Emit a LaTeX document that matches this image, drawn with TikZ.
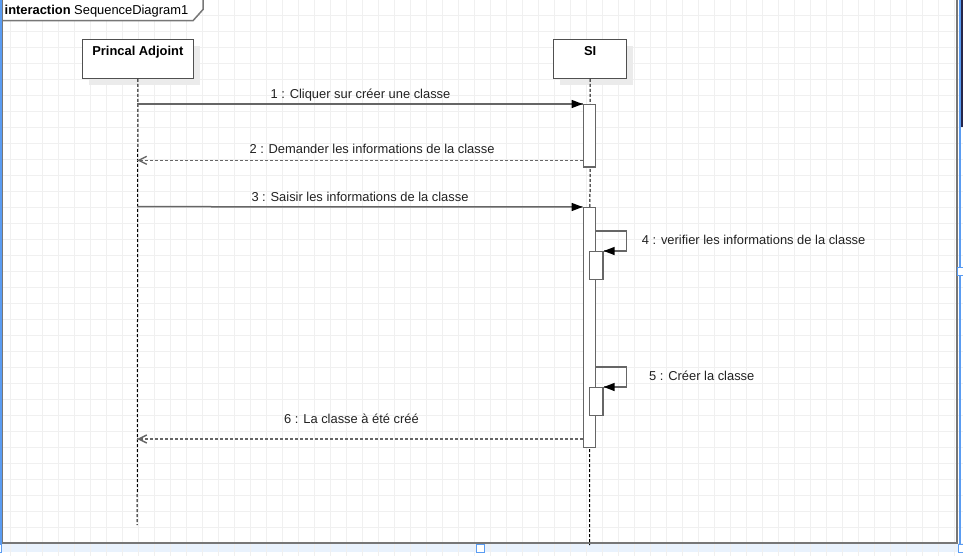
\documentclass[tikz,border=0pt]{standalone}
\usepackage{fontspec}
\setmainfont{Liberation Sans}
\usetikzlibrary{calc}
\usetikzlibrary{arrows.meta,decorations.markings}

\definecolor{gridgray}{HTML}{F0F0F0}
\definecolor{linegray}{HTML}{666666}
\definecolor{framegray}{HTML}{777777}
\definecolor{boxgray}{HTML}{505050}
\definecolor{textgray}{HTML}{222222}
\definecolor{selblue}{HTML}{5A9CF2}
\definecolor{selfill}{HTML}{E9F2FD}
\definecolor{shadowgray}{HTML}{EBEBEB}

\newcommand{\labelfont}{\fontsize{12.9pt}{15pt}\selectfont}

\tikzset{
  call/.style={draw=linegray, line width=1.5pt, postaction={decorate},
    decoration={markings,
      mark=at position 1 with {\arrow[black]{Triangle[length=11pt,width=8pt]}}}},
  reply/.style={draw=linegray, line width=1.4pt, dash pattern=on 3pt off 2pt,
    postaction={decorate},
    decoration={markings,
      mark=at position 1 with {\arrow[linegray]{Straight Barb[length=8pt,width=8pt]}}}},
  lifeline/.style={black, line width=1pt, dash pattern=on 3pt off 2pt},
  actor/.style={draw=boxgray, fill=white, line width=1.3pt, inner sep=0pt,
    minimum height=38.7pt, anchor=north west},
  actorname/.style={font=\labelfont\bfseries, anchor=base, inner sep=0pt},
  actbox/.style={draw=linegray, fill=white, line width=1.4pt, inner sep=0pt,
    anchor=north},
  msg/.style={text=textgray, anchor=base, inner sep=0pt},
}

\begin{document}
\begin{tikzpicture}[x=1pt,y=-1pt,font=\labelfont]

% canvas
\useasboundingbox (0,0) rectangle (963,556);
\clip (0,0) rectangle (963,556);
\fill[white] (0,0) rectangle (963,556);
\fill[selfill] (0,544.3) rectangle (963,552);

% grid
\foreach \gx in {0,...,60}
  \draw[gridgray, line width=1pt] ({10.5+16*\gx},0) -- ({10.5+16*\gx},556);
\foreach \gy in {0,...,34}
  \draw[gridgray, line width=1pt] (0,{15.5+16*\gy}) -- (963,{15.5+16*\gy});

% frame
\draw[framegray, line width=2pt] (2,-5) rectangle (956.8,543.3);
\draw[framegray, line width=1.5pt, fill=white]
  (2,-1) -- (203,-1) -- (203,9.5) -- (193,20.7) -- (2,20.7) -- cycle;
\node[anchor=base west, inner sep=0pt] (title) at (4.5,14.3)
  {\textbf{interaction} SequenceDiagram1};

% selection marks
\draw[selblue, line width=1.6pt] (1.3,0) -- (1.3,552);
\draw[selblue, line width=1.6pt] (959.8,0) -- (959.8,552);
\fill[black!80!blue!70!gray] (960.6,0) rectangle (963,127);
\draw[selblue, line width=1pt, fill=white] (476.5,544.5) rectangle (484.5,552.5);
\draw[selblue, line width=1pt, fill=white] (957.5,267) rectangle (966,275);
\draw[selblue, line width=1pt, fill=white] (958.5,544.5) rectangle (967,552.5);
\draw[selblue, line width=1pt, fill=white] (-6,544.5) rectangle (1.5,552.5);

% lifelines
\pgfmathsetmacro{\xa}{137.2} % Princal Adjoint
\pgfmathsetmacro{\xs}{589.5} % SI

\fill[shadowgray] (88.7,46) rectangle (199.7,84.7);
\fill[shadowgray] (560,46) rectangle (633,84.7);
\node[actor, minimum width=111pt] (PA) at (81.7,39) {};
\node[actor, minimum width=73pt] (SI) at (553,39) {};
\node[actorname] (PAname) at ($(PA.north)+(0,17)$) {Princal Adjoint};
\node[actorname] (SIname) at ($(SI.north)+(0,17)$) {SI};

\coordinate (PAend) at (\xa,525);
\coordinate (SIend) at (\xs,545);
\draw[lifeline] (PA.south) -- (PAend);
\draw[lifeline] (SI.south) -- (SIend);

% activations
\node[actbox, minimum width=12.4pt, minimum height=62.5pt] (A1) at (\xs,104) {};
\node[actbox, minimum width=12.4pt, minimum height=239.5pt] (A2) at (\xs,207) {};
\node[actbox, minimum width=13.5pt, minimum height=28pt] (N1) at (596.25,251) {};
\node[actbox, minimum width=13.5pt, minimum height=27.5pt] (N2) at (596.25,387) {};

% messages
\coordinate (m1) at (\xa,104);
\coordinate (m2) at (\xa,160.3);
\coordinate (m3) at (\xa,206.7);
\coordinate (m6) at (\xa,439);
\coordinate (s4) at ($(A2.north east)+(0,24)$);
\coordinate (s5) at ($(A2.north east)+(0,160)$);

\draw[call] (m1) -- (A1.north west);
\draw[reply] (A1.west |- m2) -- (m2);
\draw[call] (m3) -- (A2.north west);
\draw[call] (s4) -- ++(30.3,0) |- (N1.north east);
\draw[call] (s5) -- ++(30.3,0) |- (N2.north east);
\draw[reply] (A2.west |- m6) -- (m6);

% labels
\node[msg] (l1) at (360.5,98.3) {1 : Cliquer sur créer une classe};
\node[msg] (l2) at (372,153.3) {2 : Demander les informations de la classe};
\node[msg] (l3) at (360,201.7) {3 : Saisir les informations de la classe};
\node[msg, anchor=base west] (l4) at (641.7,244.3) {4 : verifier les informations de la classe};
\node[msg, anchor=base west] (l5) at (649,380) {5 : Créer la classe};
\node[msg] (l6) at (351.5,423.6) {6 : La classe à été créé};

\end{tikzpicture}
\end{document}
